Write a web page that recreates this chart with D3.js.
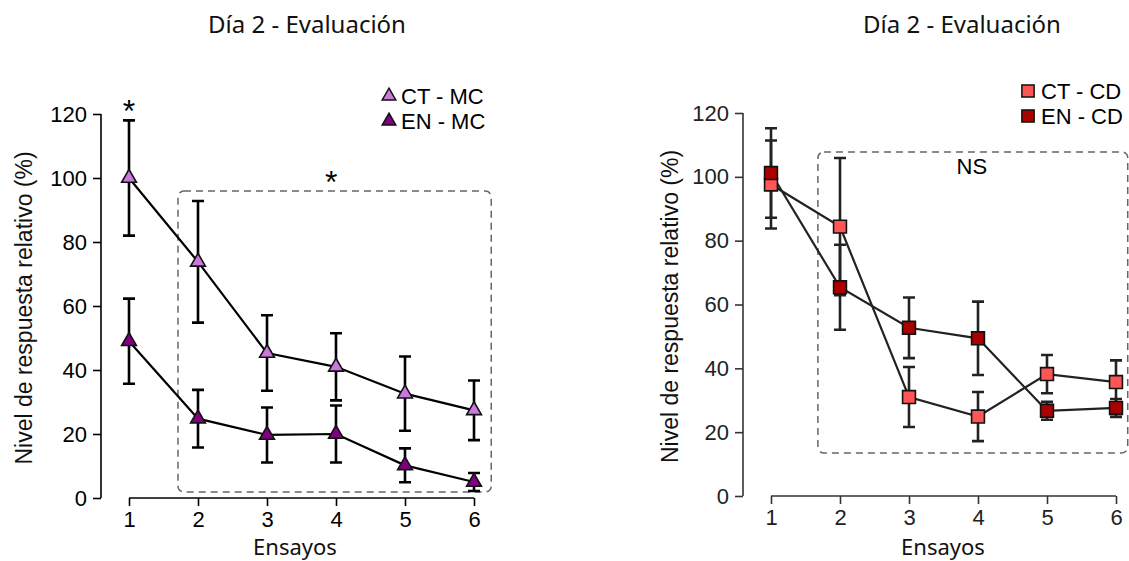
<!DOCTYPE html>
<html>
<head>
<meta charset="utf-8">
<script src="https://cdn.jsdelivr.net/npm/d3@7"></script>
<style>
  body { margin: 0; background: #fff; }
  svg { display: block; }
</style>
</head>
<body>
<div id="chart"></div>
<script>
// Trials (Ensayos)
var trials = [1, 2, 3, 4, 5, 6];
var yTicks = [0, 20, 40, 60, 80, 100, 120];

// Left panel - MC
var ctMC = [100, 73.8, 45.3, 41, 32.6, 27.4];
var ctMCerr = [18, 19, 11.8, 10.5, 11.6, 9.3];
var enMC = [49, 24.8, 19.7, 20, 10.2, 5];
var enMCerr = [13.3, 9, 8.6, 8.9, 5.3, 2.8];

// Right panel - CD
var ctCD = [97.6, 84.4, 31, 24.9, 38.2, 35.7];
var ctCDerr = [13.8, 21.5, 9.4, 7.7, 6, 6.8];
var enCD = [101.2, 65.4, 52.7, 49.4, 26.7, 27.6];
var enCDerr = [14, 13.3, 9.5, 11.5, 2.8, 2.8];

var w = 1129;
var h = 561;

var svg = d3.select("#chart")
  .append("svg")
  .attr("width", w)
  .attr("height", h);

var labelFont = "'Liberation Sans', Arial, sans-serif";
var titleFont = "'Noto Sans', 'Open Sans', sans-serif";

function drawPanel(p) {
  var xScale = d3.scaleLinear().domain([1, 6]).range([p.x0, p.x1]);
  var yScale = d3.scaleLinear().domain([0, 120]).range([p.y0, p.y1]);
  var g = svg.append("g");

  //Title
  g.append("text")
    .attr("x", p.titleX)
    .attr("y", 33)
    .attr("text-anchor", "middle")
    .attr("font-family", titleFont)
    .attr("font-size", "24px")
    .attr("fill", "#111")
    .text("Día 2 - Evaluación");

  //Y axis (ticks to the left)
  var yAxis = g.append("g")
    .attr("transform", "translate(" + p.yAxisX + ",0)")
    .call(d3.axisLeft(yScale).tickValues(yTicks).tickSize(8).tickPadding(6).tickFormat(d3.format("d")));
  //X axis, offset from the y axis
  var xAxis = g.append("g")
    .attr("transform", "translate(0," + p.y0 + ")")
    .call(d3.axisBottom(xScale).tickValues(trials).tickSize(8).tickPadding(5).tickFormat(d3.format("d")));

  [yAxis, xAxis].forEach(function (a) {
    a.select(".domain").attr("stroke", p.axisColor).attr("stroke-width", 1.6);
    a.selectAll(".tick line").attr("stroke", p.axisColor).attr("stroke-width", 1.6);
    a.selectAll(".tick text")
      .attr("font-family", labelFont)
      .attr("font-size", "22px")
      .attr("fill", p.textColor);
  });
  yAxis.select(".domain").attr("d", "M0," + yScale(120) + "V" + yScale(0));
  xAxis.select(".domain").attr("d", "M" + xScale(1) + ",0H" + xScale(6));

  //Axis labels
  g.append("text")
    .attr("transform", "translate(" + p.yLabelX + "," + (yScale(60) + 2) + ")rotate(-90)")
    .attr("text-anchor", "middle")
    .attr("font-family", labelFont)
    .attr("font-size", "23px")
    .attr("fill", "#111")
    .text("Nivel de respuesta relativo (%)");

  g.append("text")
    .attr("x", p.xLabelX)
    .attr("y", 555)
    .attr("text-anchor", "middle")
    .attr("font-family", titleFont)
    .attr("font-size", "22px")
    .attr("fill", "#111")
    .text("Ensayos");

  //Dashed box
  g.append("rect")
    .attr("x", xScale(p.box[0]))
    .attr("y", yScale(p.box[3]))
    .attr("width", xScale(p.box[1]) - xScale(p.box[0]))
    .attr("height", yScale(p.box[2]) - yScale(p.box[3]))
    .attr("rx", 6)
    .attr("fill", "none")
    .attr("stroke", "#666")
    .attr("stroke-width", 1.5)
    .attr("stroke-dasharray", "7,5");

  //Significance marks
  p.notes.forEach(function (n) {
    g.append("text")
      .attr("x", xScale(n.x))
      .attr("y", yScale(n.y) + n.dy)
      .attr("text-anchor", "middle")
      .attr("font-family", labelFont)
      .attr("font-size", n.size)
      .attr("fill", "#000")
      .text(n.text);
  });

  var line = d3.line()
    .x(function (d, i) { return xScale(trials[i]); })
    .y(function (d) { return yScale(d); });

  //Lines
  p.series.forEach(function (s) {
    g.append("path")
      .datum(s.values)
      .attr("d", line)
      .attr("fill", "none")
      .attr("stroke", p.lineColor)
      .attr("stroke-width", 2.2);
  });

  //Error bars
  var cap = 6;
  p.series.forEach(function (s) {
    var eb = g.append("g");
    s.values.forEach(function (v, i) {
      var x = xScale(trials[i]);
      var top = yScale(v + s.err[i]);
      var bot = yScale(v - s.err[i]);
      eb.append("path")
        .attr("d", "M" + x + "," + top + "V" + bot +
          "M" + (x - cap) + "," + top + "H" + (x + cap) +
          "M" + (x - cap) + "," + bot + "H" + (x + cap))
        .attr("fill", "none")
        .attr("stroke", p.lineColor)
        .attr("stroke-width", 2.6);
    });
  });

  //Markers
  p.series.forEach(function (s) {
    g.selectAll(null)
      .data(s.values)
      .enter()
      .append("path")
      .attr("transform", function (d, i) {
        return "translate(" + xScale(trials[i]) + "," + yScale(d) + ")";
      })
      .attr("d", p.symbol)
      .attr("fill", s.color)
      .attr("stroke", "#111")
      .attr("stroke-width", 1.6);
  });

  //Legend
  p.series.forEach(function (s, i) {
    var ly = p.legendY + i * 25;
    g.append("path")
      .attr("transform", "translate(" + p.legendX + "," + ly + ")")
      .attr("d", p.legendSymbol)
      .attr("fill", s.color)
      .attr("stroke", "#111")
      .attr("stroke-width", 1.5);
    g.append("text")
      .attr("x", p.legendX + p.legendGap)
      .attr("y", ly + 8)
      .attr("font-family", labelFont)
      .attr("font-size", "22px")
      .attr("fill", "#000")
      .text(s.name);
  });
}

drawPanel({
  x0: 129, x1: 474, y0: 498, y1: 114,
  yAxisX: 101, yLabelX: 32, xLabelX: 295, titleX: 307,
  axisColor: "#000", textColor: "#000", lineColor: "#000",
  symbol: d3.symbol().type(d3.symbolTriangle).size(95)(),
  legendSymbol: d3.symbol().type(d3.symbolTriangle).size(80)(),
  legendX: 389, legendY: 96, legendGap: 12,
  box: [1.71, 6.25, 1.9, 95.9],
  notes: [
    { x: 1, y: 123, dy: 18, text: "*", size: "32px" },
    { x: 3.93, y: 101, dy: 18, text: "*", size: "32px" }
  ],
  series: [
    { name: "CT - MC", values: ctMC, err: ctMCerr, color: "#cc77dd" },
    { name: "EN - MC", values: enMC, err: enMCerr, color: "#800080" }
  ]
});

drawPanel({
  x0: 771, x1: 1116, y0: 496, y1: 113,
  yAxisX: 743, yLabelX: 678, xLabelX: 943, titleX: 962,
  axisColor: "#333", textColor: "#222", lineColor: "#222",
  symbol: d3.symbol().type(d3.symbolSquare).size(165)(),
  legendSymbol: d3.symbol().type(d3.symbolSquare).size(150)(),
  legendX: 1028, legendY: 91, legendGap: 13,
  box: [1.68, 6.17, 13.5, 107.8],
  notes: [
    { x: 3.91, y: 103.4, dy: 8, text: "NS", size: "22px" }
  ],
  series: [
    { name: "CT - CD", values: ctCD, err: ctCDerr, color: "#ff5555" },
    { name: "EN - CD", values: enCD, err: enCDerr, color: "#aa0000" }
  ]
});
</script>
</body>
</html>
